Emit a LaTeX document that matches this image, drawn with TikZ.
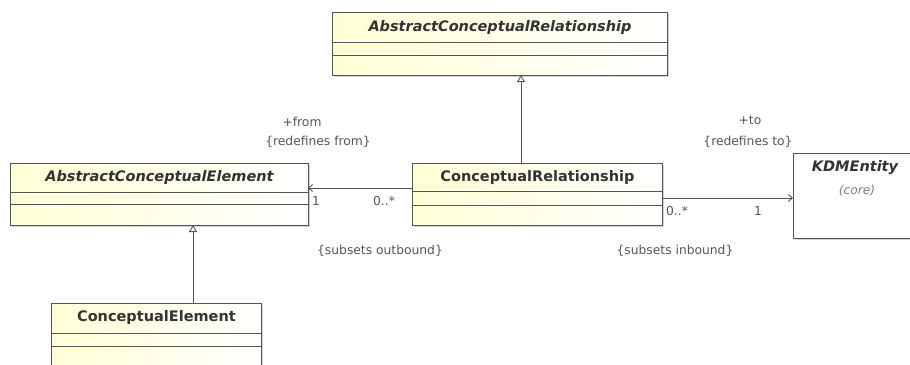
\documentclass[tikz,border=0pt]{standalone}
\usepackage{fontspec}
\setmainfont{DejaVu Sans}
\usetikzlibrary{arrows.meta,shadows,calc}
\definecolor{lineC}{HTML}{555555}
\definecolor{txtC}{HTML}{333333}
\definecolor{lblC}{HTML}{555555}
\definecolor{yelC}{HTML}{FFFFD6}
\tikzset{
  classbox/.style={draw=lineC, line width=0.9pt, left color=yelC, right color=white,
    drop shadow={shadow xshift=2pt, shadow yshift=-2pt, opacity=0.35}, inner sep=0pt, anchor=north west},
  plainbox/.style={draw=lineC, line width=0.9pt, fill=white,
    drop shadow={shadow xshift=2pt, shadow yshift=-2pt, opacity=0.35}, inner sep=0pt, anchor=north west},
  divider/.style={draw=lineC, line width=0.9pt},
  cname/.style={font=\bfseries\fontsize{14.5}{16}\selectfont, text=txtC, inner sep=0pt},
  aname/.style={font=\bfseries\itshape\fontsize{14.5}{16}\selectfont, text=txtC, inner sep=0pt},
  lbl/.style={font=\fontsize{12.3}{14}\selectfont, text=lblC, inner sep=0pt},
  gen/.style={draw=lineC, line width=0.9pt, -{Triangle[open, length=7pt, width=8pt, fill=white]}},
  assoc/.style={draw=lineC, line width=0.9pt, -{Straight Barb[length=4pt, width=7pt]}},
}
\begin{document}
\begin{tikzpicture}[x=1pt, y=-1pt]
\useasboundingbox (0,0) rectangle (910,364);
\fill[white] (0,0) rectangle (910,364);
% AbstractConceptualRelationship
\node[classbox, minimum width=335pt, minimum height=63pt] (acr) at (332,12) {};
\draw[divider] ($(acr.north west)+(0,30)$) -- ($(acr.north east)+(0,30)$);
\draw[divider] ($(acr.north west)+(0,43)$) -- ($(acr.north east)+(0,43)$);
\node[aname] (acrn) at ($(acr.north)+(0,15)$) {AbstractConceptualRelationship};
% AbstractConceptualElement
\node[classbox, minimum width=298pt, minimum height=62pt] (ace) at (10,163) {};
\draw[divider] ($(ace.north west)+(0,29)$) -- ($(ace.north east)+(0,29)$);
\draw[divider] ($(ace.north west)+(0,41)$) -- ($(ace.north east)+(0,41)$);
\node[aname] (acen) at ($(ace.north)+(0,14)$) {AbstractConceptualElement};
% ConceptualRelationship
\node[classbox, minimum width=250pt, minimum height=62pt] (cr) at (412,163) {};
\draw[divider] ($(cr.north west)+(0,28)$) -- ($(cr.north east)+(0,28)$);
\draw[divider] ($(cr.north west)+(0,42)$) -- ($(cr.north east)+(0,42)$);
\node[cname] (crn) at ($(cr.north)+(0,14)$) {ConceptualRelationship};
% ConceptualElement
\node[classbox, minimum width=210pt, minimum height=75pt] (ce) at (51,303) {};
\draw[divider] ($(ce.north west)+(0,30)$) -- ($(ce.north east)+(0,30)$);
\draw[divider] ($(ce.north west)+(0,43)$) -- ($(ce.north east)+(0,43)$);
\node[cname] (cen) at ($(ce.north)+(0,14)$) {ConceptualElement};
% KDMEntity
\node[plainbox, minimum width=130pt, minimum height=85pt] (kdm) at (793,153) {};
\node[aname] (kdmn) at (855,168) {KDMEntity};
\node[lbl, font=\itshape\fontsize{12.3}{14}\selectfont, text=gray] (kdmc) at (857,191) {(core)};
% generalizations
\coordinate (cetop) at (193,303);
\coordinate (acebot) at (193,225);
\draw[gen] (cetop) -- (acebot);
\coordinate (crtop) at (521,163);
\coordinate (acrbot) at (521,75);
\draw[gen] (crtop) -- (acrbot);
% associations
\coordinate (crw) at (412,188);
\coordinate (acee) at (308,188);
\draw[assoc] (crw) -- (acee);
\coordinate (cre) at (662,198);
\coordinate (kdmw) at (793,198);
\draw[assoc] (cre) -- (kdmw);
% labels
\node[lbl] (l1) at (302,122) {+from};
\node[lbl] (l2) at (318,142) {\{redefines from\}};
\node[lbl] (l3) at (316,201) {1};
\node[lbl] (l4) at (384,201) {0..*};
\node[lbl] (l5) at (380,251) {\{subsets outbound\}};
\node[lbl] (l6) at (750,120) {+to};
\node[lbl] (l7) at (748,142) {\{redefines to\}};
\node[lbl] (l8) at (677,211) {0..*};
\node[lbl] (l9) at (758,211) {1};
\node[lbl] (l10) at (675,251) {\{subsets inbound\}};
\end{tikzpicture}
\end{document}
